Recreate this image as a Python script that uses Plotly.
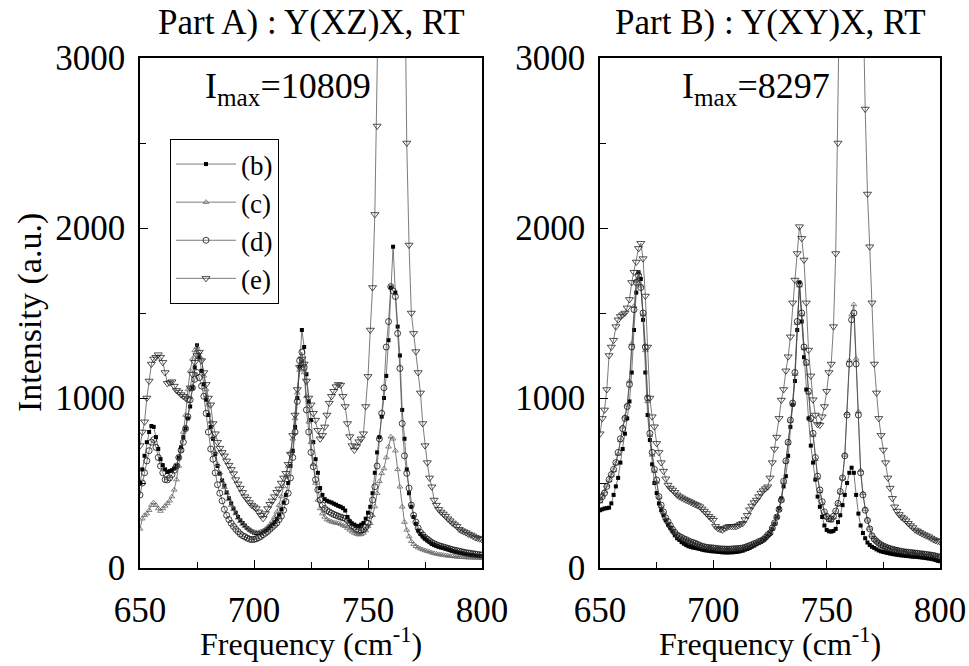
import plotly.graph_objects as go

freq = list(range(650, 801))

# Part A) Y(XZ)X
a_b = [500,580,660,740,800,835,830,770,700,640,
       605,580,565,570,575,585,600,650,710,770,
       820,880,950,1060,1180,1310,1240,1160,1080,990,
       900,830,760,670,600,555,515,485,445,410,
       380,350,325,300,280,265,250,235,225,215,
       208,205,205,208,215,222,232,245,258,270,
       290,315,345,385,430,500,600,690,830,1000,
       1185,1400,1300,1140,980,870,740,640,560,470,
       430,405,395,390,385,378,372,365,360,352,
       338,300,275,262,255,248,246,255,265,290,
       325,360,440,560,680,770,890,1000,1130,1340,
       1650,1890,1620,1420,1250,930,760,580,440,360,
       300,260,220,200,185,172,162,152,142,135,
       130,125,121,118,114,110,105,100,96,93,
       90,87,83,80,78,76,74,72,71,70,
       69]
a_c = [230,290,310,320,340,370,385,370,350,335,
       350,365,380,395,420,460,520,600,690,800,
       900,1050,1160,1230,1280,1300,1270,1230,1130,1050,
       960,860,770,680,610,560,510,475,440,405,
       370,345,320,295,275,258,245,235,225,217,
       212,210,210,213,218,228,240,255,275,300,
       330,370,420,480,537,600,680,760,880,1030,
       1165,1224,1150,1010,860,740,610,500,400,350,
       320,300,285,278,272,268,265,263,258,250,
       245,235,224,214,206,200,196,198,206,220,
       245,263,310,361,440,510,557,585,650,713,
       772,760,690,580,478,360,270,224,185,157,
       140,128,120,113,108,103,99,95,90,86,
       83,80,78,76,74,72,70,69,67,66,
       65,64,63,62,61,61,60,60,59,59,
       58]
a_d = [430,500,560,630,690,740,755,710,650,600,
       560,520,518,530,550,575,600,650,694,740,
       820,890,990,1060,1110,1150,1120,1070,1010,910,
       800,700,640,560,490,440,395,345,310,285,
       263,245,228,214,200,190,184,176,170,167,
       168,172,178,186,196,205,215,228,240,252,
       265,285,305,340,390,440,530,650,800,980,
       1220,1270,1180,930,800,680,596,520,460,400,
       370,350,338,330,322,315,310,304,300,295,
       292,280,265,250,240,228,222,222,225,240,
       263,310,400,478,600,760,910,1060,1300,1450,
       1655,1630,1597,1380,1174,850,660,557,470,370,
       310,270,235,210,195,180,170,160,150,143,
       137,132,128,124,120,116,112,108,105,102,
       99,96,93,90,88,86,84,82,80,78,
       77]
a_e = [720,800,860,1000,1100,1200,1230,1240,1255,1240,
       1210,1150,1086,1090,1096,1070,1045,1035,1020,1010,
       1000,990,1060,1140,1210,1250,1270,1220,1150,1080,
       1000,960,850,790,740,705,680,660,630,605,
       580,555,520,495,470,445,420,405,385,370,
       360,350,330,310,292,320,350,375,395,420,
       445,465,500,530,557,610,670,780,900,1050,
       1180,1230,1200,1100,1000,960,910,870,810,760,
       780,830,900,970,1010,1040,1067,1080,1076,1010,
       950,850,773,720,694,714,743,760,790,950,
       1127,1400,1650,2080,2600,3400,4600,6100,7900,9500,
       10500,10809,10200,8900,7100,5200,3700,2500,1900,1500,
       1380,1273,1150,1030,850,720,620,530,478,400,
       370,345,330,318,305,290,278,265,255,245,
       228,220,214,208,200,195,188,180,176,172,
       168]

# Part B) Y(XY)X
b_b = [340,345,350,352,355,380,430,480,530,620,
       700,790,880,980,1150,1400,1620,1740,1700,1460,
       1150,900,753,610,500,441,380,340,310,280,
       255,235,215,192,175,165,152,143,135,128,
       124,120,118,115,112,108,105,103,101,99,
       98,97,95,94,92,92,91,92,92,93,
       94,96,99,102,108,112,118,125,132,140,
       147,155,165,176,190,205,230,260,300,350,
       410,480,540,660,830,960,1100,1400,1680,1450,
       1240,1050,880,720,620,520,420,360,300,250,
       224,216,214,218,230,270,310,370,430,500,
       560,590,560,430,320,250,206,175,150,135,
       125,118,110,103,98,94,91,88,85,82,
       80,78,76,74,73,71,70,68,67,66,
       65,63,62,60,58,56,54,51,47,42,
       39]
b_c = [390,425,450,485,515,545,575,615,670,750,
       830,890,960,1100,1320,1540,1690,1735,1660,1490,
       1280,980,780,665,570,505,415,362,325,290,
       268,245,224,206,192,182,176,168,162,156,
       150,146,141,136,130,125,122,119,117,116,
       115,113,111,110,109,109,108,108,109,110,
       111,112,114,116,120,124,129,134,140,146,
       152,158,165,178,192,204,232,262,298,342,
       398,505,625,735,865,965,1140,1440,1660,1490,
       1290,1200,1030,870,780,640,530,450,380,322,
       296,280,278,296,328,375,445,528,665,910,
       1220,1490,1550,1230,920,575,440,345,284,232,
       192,171,158,146,136,129,123,117,113,109,
       106,103,100,97,95,93,92,90,89,87,
       86,84,82,81,79,77,75,73,70,66,
       63]
b_d = [400,420,441,480,520,549,580,620,680,760,
       820,880,950,1080,1300,1520,1680,1720,1650,1500,
       1300,1000,792,680,580,518,420,370,330,295,
       273,250,228,210,195,186,180,172,167,160,
       154,150,145,140,133,128,125,122,120,119,
       118,116,114,113,112,112,111,111,112,113,
       114,115,116,118,122,127,132,137,143,148,
       155,160,167,180,195,206,235,265,300,345,
       400,510,630,740,870,970,1150,1450,1670,1500,
       1300,1210,1040,880,792,650,540,459,390,330,
       304,290,288,304,335,380,450,530,660,900,
       1200,1460,1500,1200,900,560,430,340,280,230,
       190,170,158,146,137,130,124,118,114,110,
       107,104,101,98,96,94,93,91,90,88,
       87,85,83,82,80,78,76,74,71,67,
       64]
b_e = [790,880,930,1050,1250,1300,1340,1420,1460,1480,
       1490,1500,1530,1580,1680,1740,1800,1880,1910,1820,
       1600,1300,1000,890,831,733,680,620,570,525,
       488,470,459,445,430,420,413,406,400,394,
       388,380,374,368,361,348,335,321,305,293,
       282,245,233,228,224,232,240,245,245,244,
       245,250,258,263,285,310,343,365,385,400,
       420,441,455,467,478,530,620,700,770,880,
       988,1050,1160,1243,1360,1560,1694,1850,2008,1939,
       1812,1560,1282,1130,990,900,845,841,890,950,
       1040,1150,1200,1420,1850,2500,3400,4600,6000,7100,
       8000,8297,7900,6800,5500,4300,3400,2700,2200,1890,
       1560,1200,1030,880,780,694,620,530,470,410,
       360,335,315,300,290,278,263,250,238,224,
       218,210,202,196,190,184,176,168,162,158,
       155]

labels = ["(b)", "(c)", "(d)", "(e)"]
titles = ["Part A) : Y(XZ)X, RT", "Part B) : Y(XY)X, RT"]
imax = [10809, 8297]
y_ticks = [0, 1000, 2000, 3000]
x_ticks = [650, 700, 750, 800]

for arr in [a_b, a_c, a_d, a_e, b_b, b_c, b_d, b_e]:
    assert len(arr) == len(freq), len(arr)

W, H = 969, 666
FONT = "Liberation Serif, Times New Roman, serif"
LINE = "#444444"

styles = [
    dict(symbol="square", size=4, color="black", line=dict(width=0)),
    dict(symbol="triangle-up-open", size=5, color="#666666", line=dict(width=0.8)),
    dict(symbol="circle-open", size=6, color="#111111", line=dict(width=0.8)),
    dict(symbol="triangle-down-open", size=7, color="#222222", line=dict(width=0.8)),
]

fig = go.Figure()
panels = [("x", "y", [a_b, a_c, a_d, a_e]), ("x2", "y2", [b_b, b_c, b_d, b_e])]
for pi, (xa, ya, series) in enumerate(panels):
    for si, ys in enumerate(series):
        fig.add_trace(go.Scatter(
            x=freq, y=ys, xaxis=xa, yaxis=ya, mode="lines+markers",
            name=labels[si], showlegend=(pi == 0), cliponaxis=True,
            line=dict(color=LINE, width=0.7),
            marker=styles[si],
        ))

def px_x(p):
    return p / W

def px_y(p):
    return 1 - p / H

domA = [px_x(140), px_x(482)]
domB = [px_x(600), px_x(940)]
domY = [px_y(568), px_y(58)]

xcommon = dict(range=[650, 800], tickvals=x_ticks, ticks="inside", ticklen=8,
               tickwidth=1.2, tickcolor="black", showline=True, linecolor="black",
               linewidth=1.5, mirror=True, showgrid=False, zeroline=False,
               automargin=False,
               tickfont=dict(family=FONT, size=35, color="black"),
               ticklabelstandoff=10,
               minor=dict(dtick=25, tick0=650, ticks="inside", ticklen=6,
                          tickwidth=1, tickcolor="black", showgrid=False))
ycommon = dict(range=[0, 3000], tickvals=y_ticks, ticks="inside", ticklen=8,
               tickwidth=1.2, tickcolor="black", showline=True, linecolor="black",
               linewidth=1.5, mirror=True, showgrid=False, zeroline=False,
               automargin=False,
               tickfont=dict(family=FONT, size=35, color="black"),
               ticklabelstandoff=6,
               minor=dict(dtick=500, tick0=0, ticks="inside", ticklen=6,
                          tickwidth=1, tickcolor="black", showgrid=False))

fig.update_layout(
    width=W, height=H, margin=dict(l=0, r=0, t=0, b=0, autoexpand=False),
    paper_bgcolor="white", plot_bgcolor="white",
    xaxis=dict(domain=domA, anchor="y", **xcommon),
    yaxis=dict(domain=domY, anchor="x", **ycommon),
    xaxis2=dict(domain=domB, anchor="y2", **xcommon),
    yaxis2=dict(domain=domY, anchor="x2", **ycommon),
    showlegend=True,
    legend=dict(x=px_x(170), y=px_y(139), xanchor="left", yanchor="top",
                bordercolor="black", borderwidth=1, bgcolor="white",
                font=dict(family=FONT, size=27, color="black"),
                itemwidth=60, tracegroupgap=0),
)

anns = []
for i, dom in enumerate([domA, domB]):
    cx = (dom[0] + dom[1]) / 2
    anns.append(dict(x=cx, y=px_y(22), xref="paper", yref="paper", showarrow=False,
                     text=titles[i], font=dict(family=FONT, size=35, color="black"),
                     xanchor="center", yanchor="middle"))
    anns.append(dict(x=cx, y=px_y(664), xref="paper", yref="paper", showarrow=False,
                     text="Frequency (cm<sup>-1</sup>)",
                     font=dict(family=FONT, size=32, color="black"),
                     xanchor="center", yanchor="bottom"))
anns.append(dict(x=px_x(288), y=px_y(88), xref="paper", yref="paper", showarrow=False,
                 text=f"I<sub>max</sub>={imax[0]}", font=dict(family=FONT, size=36, color="black"),
                 xanchor="center", yanchor="middle"))
anns.append(dict(x=px_x(756), y=px_y(88), xref="paper", yref="paper", showarrow=False,
                 text=f"I<sub>max</sub>={imax[1]}", font=dict(family=FONT, size=36, color="black"),
                 xanchor="center", yanchor="middle"))
anns.append(dict(x=px_x(30), y=px_y(313), xref="paper", yref="paper", showarrow=False,
                 text="Intensity (a.u.)", textangle=-90,
                 font=dict(family=FONT, size=34, color="black"),
                 xanchor="center", yanchor="middle"))
fig.update_layout(annotations=anns)

fig.write_html("out.html")
